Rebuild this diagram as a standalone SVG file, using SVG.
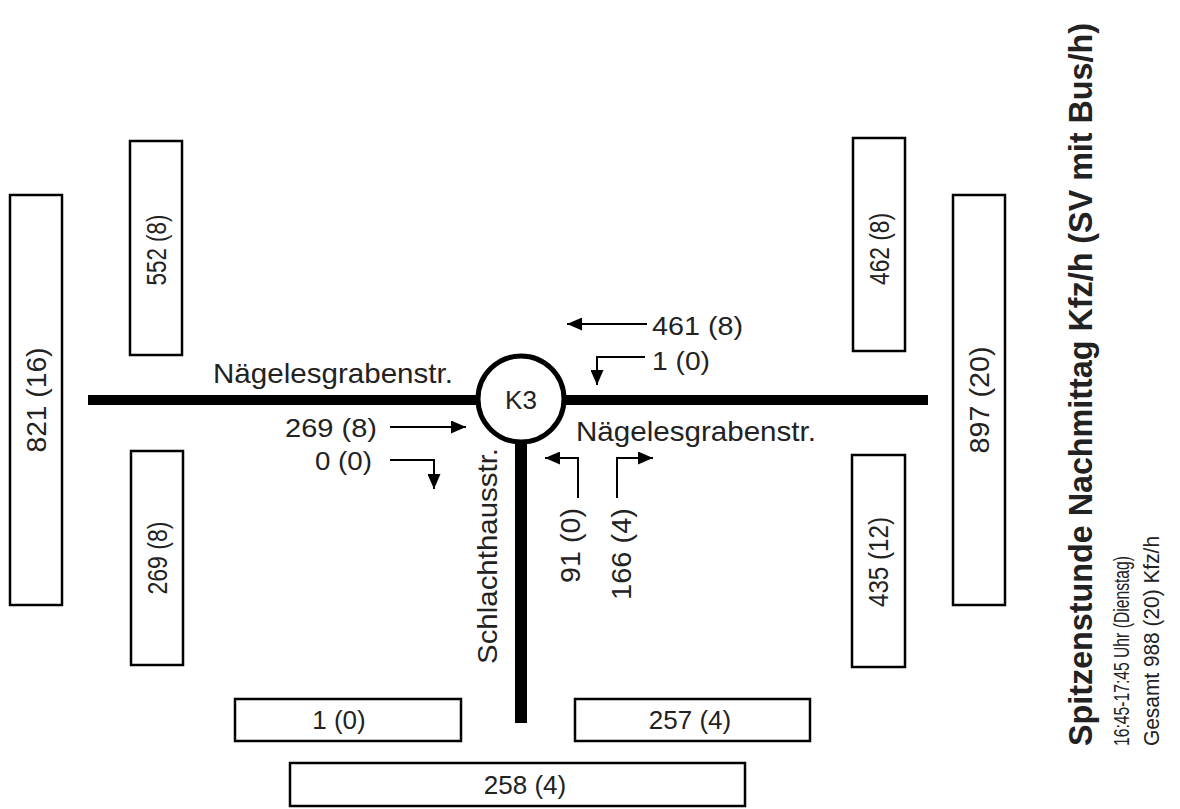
<svg xmlns="http://www.w3.org/2000/svg" width="1180" height="809" viewBox="0 0 1180 809">
<style>
.box{fill:#fff;stroke:#000;stroke-width:2.5}
.road{stroke:#000;fill:none}
.t{font-family:"Liberation Sans",Arial,sans-serif;fill:#222}
.num{font-size:26px}
.bnum{font-size:27px}
.street{font-size:28px}
.arr{stroke:#000;stroke-width:2;fill:none;marker-end:url(#ah)}
</style>
<defs>
<marker id="ah" markerUnits="userSpaceOnUse" markerWidth="15" markerHeight="13" refX="15" refY="6.5" orient="auto">
<path d="M0,0 L15,6.5 L0,13 z" fill="#000"/>
</marker>
</defs>
<rect width="1180" height="809" fill="#fff"/>

<g id="roads">
<line class="road" x1="88" y1="400" x2="477" y2="400" stroke-width="10"/>
<line class="road" x1="565" y1="400" x2="928" y2="400" stroke-width="10"/>
<line class="road" x1="521" y1="440" x2="521" y2="723" stroke-width="12"/>
</g>

<g id="node-K3">
<circle cx="521" cy="399" r="43" fill="#fff" stroke="#000" stroke-width="5"/>
<text class="t" x="521" y="409" font-size="26" text-anchor="middle">K3</text>
</g>

<g id="streets">
<text class="t street" x="213" y="383" textLength="240" lengthAdjust="spacingAndGlyphs">Nägelesgrabenstr.</text>
<text class="t street" x="576" y="441" textLength="240" lengthAdjust="spacingAndGlyphs">Nägelesgrabenstr.</text>
<text class="t street" transform="translate(497,664) rotate(-90)" x="0" y="0" textLength="216" lengthAdjust="spacingAndGlyphs">Schlachthausstr.</text>
</g>

<g id="box-w-total">
<rect class="box" x="10" y="195" width="52" height="410"/>
<text class="t bnum" transform="translate(46,400) rotate(-90)" text-anchor="middle" textLength="105" lengthAdjust="spacingAndGlyphs">821 (16)</text>
</g>
<g id="box-w-out">
<rect class="box" x="130" y="141" width="52" height="214"/>
<text class="t bnum" transform="translate(166,250) rotate(-90)" text-anchor="middle" textLength="71" lengthAdjust="spacingAndGlyphs">552 (8)</text>
</g>
<g id="box-w-in">
<rect class="box" x="131" y="451" width="52" height="214"/>
<text class="t bnum" transform="translate(167,558) rotate(-90)" text-anchor="middle" textLength="73" lengthAdjust="spacingAndGlyphs">269 (8)</text>
</g>
<g id="box-e-in">
<rect class="box" x="853" y="138" width="52" height="213"/>
<text class="t bnum" transform="translate(889,249) rotate(-90)" text-anchor="middle" textLength="72" lengthAdjust="spacingAndGlyphs">462 (8)</text>
</g>
<g id="box-e-total">
<rect class="box" x="953" y="195" width="52" height="410"/>
<text class="t bnum" transform="translate(989,400) rotate(-90)" text-anchor="middle" textLength="107" lengthAdjust="spacingAndGlyphs">897 (20)</text>
</g>
<g id="box-e-out">
<rect class="box" x="852" y="455" width="53" height="212"/>
<text class="t bnum" transform="translate(888,562) rotate(-90)" text-anchor="middle" textLength="90" lengthAdjust="spacingAndGlyphs">435 (12)</text>
</g>
<g id="box-s-in">
<rect class="box" x="235" y="699" width="226" height="42"/>
<text class="t num" x="339" y="729" text-anchor="middle">1 (0)</text>
</g>
<g id="box-s-out">
<rect class="box" x="575" y="699" width="235" height="42"/>
<text class="t num" x="690" y="729" text-anchor="middle">257 (4)</text>
</g>
<g id="box-s-total">
<rect class="box" x="290" y="763" width="455" height="43"/>
<text class="t num" x="525" y="794" text-anchor="middle">258 (4)</text>
</g>

<g id="connectors">
<line class="arr" x1="647" y1="324" x2="567" y2="324"/>
<polyline class="arr" points="645,357 597,357 597,385"/>
<line class="arr" x1="390" y1="427" x2="466" y2="427"/>
<polyline class="arr" points="390,460 434,460 434,489"/>
<polyline class="arr" points="578,498 578,458 545,458"/>
<polyline class="arr" points="617,498 617,458 653,458"/>
</g>

<g id="flow-labels">
<text class="t num" x="652" y="335" textLength="91" lengthAdjust="spacingAndGlyphs">461 (8)</text>
<text class="t num" x="652" y="370" textLength="58" lengthAdjust="spacingAndGlyphs">1 (0)</text>
<text class="t num" x="285" y="437" textLength="92" lengthAdjust="spacingAndGlyphs">269 (8)</text>
<text class="t num" x="315" y="470" textLength="57" lengthAdjust="spacingAndGlyphs">0 (0)</text>
<text class="t bnum" transform="translate(580,508) rotate(-90)" text-anchor="end" textLength="75" lengthAdjust="spacingAndGlyphs">91 (0)</text>
<text class="t bnum" transform="translate(631,508) rotate(-90)" text-anchor="end" textLength="92" lengthAdjust="spacingAndGlyphs">166 (4)</text>
</g>

<g id="title">
<text class="t" transform="translate(1092,746) rotate(-90)" font-size="33" font-weight="bold" textLength="723" lengthAdjust="spacingAndGlyphs">Spitzenstunde Nachmittag Kfz/h (SV mit Bus/h)</text>
<text class="t" transform="translate(1129,746) rotate(-90)" font-size="22" textLength="190" lengthAdjust="spacingAndGlyphs">16:45-17:45 Uhr (Dienstag)</text>
<text class="t" transform="translate(1159,746) rotate(-90)" font-size="22" textLength="210" lengthAdjust="spacingAndGlyphs">Gesamt 988 (20) Kfz/h</text>
</g>
</svg>
